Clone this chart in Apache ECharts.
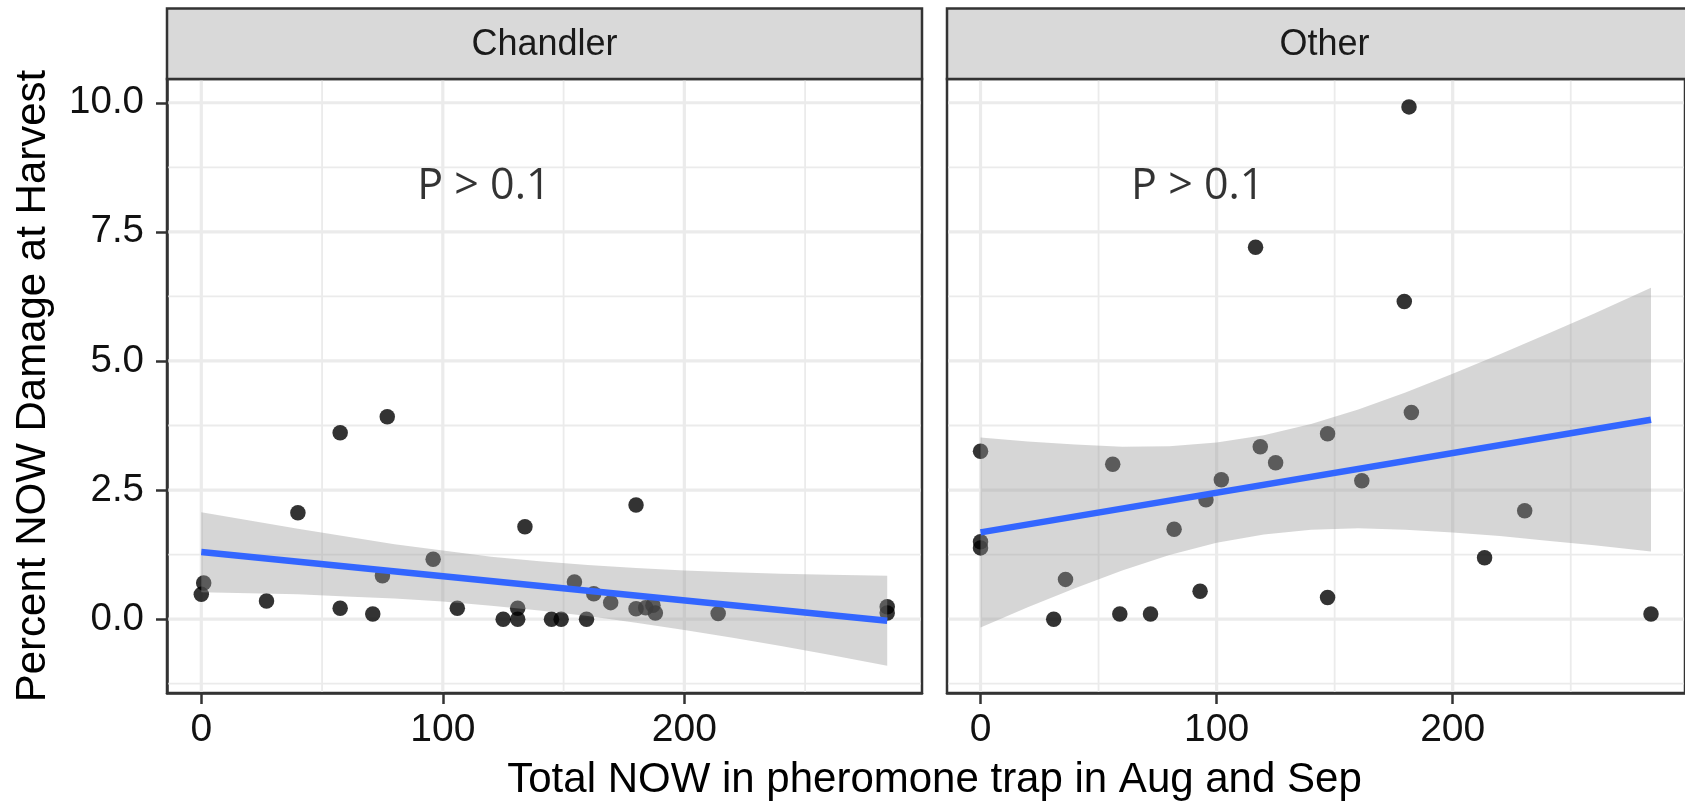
<!DOCTYPE html>
<html>
<head>
<meta charset="utf-8">
<title>NOW damage vs pheromone trap counts</title>
<script src="https://cdn.jsdelivr.net/npm/echarts@6/dist/echarts.min.js"></script>
<style>
  html, body { margin: 0; padding: 0; background: #ffffff; }
  #chart { width: 1685px; height: 805px; }
</style>
</head>
<body>
<div id="chart"></div>
<script>
// ---- data -------------------------------------------------------------
const panelNames = ['Chandler', 'Other'];

// Total NOW in trap (x) and percent damage (y), Chandler orchards
const chandlerX = [0, 1, 27, 40, 57.5, 57.5, 77, 71, 75, 96, 106, 125, 131, 131, 134, 145, 149, 154.5, 159.5, 162.5, 169.5, 180, 180, 184, 188, 187, 214, 284, 284];
const chandlerY = [0.48, 0.70, 0.35, 2.06, 3.61, 0.21, 3.92, 0.10, 0.84, 1.16, 0.21, 0, 0, 0.21, 1.79, 0, 0, 0.72, 0, 0.49, 0.32, 2.21, 0.20, 0.22, 0.12, 0.27, 0.11, 0.24, 0.12];

// Other varieties
const otherX = [0, 0, 0, 31, 36, 56, 59, 72, 82, 93, 95.5, 102, 116.5, 118.5, 125, 147, 147, 161.5, 179.5, 181.5, 182.5, 213.5, 230.5, 284];
const otherY = [3.25, 1.50, 1.38, 0, 0.77, 3.00, 0.10, 0.10, 1.74, 0.54, 2.31, 2.70, 7.20, 3.34, 3.03, 3.59, 0.42, 2.68, 6.15, 9.92, 4.00, 1.19, 2.10, 0.10];

// Linear fit end points
const fitX = [0, 284];
const chandlerFit = [1.30, -0.03];
const otherFit = [1.68, 3.86];

// Confidence band edges
const bandX = [0, 20, 40, 60, 80, 100, 120, 140, 160, 180, 200, 220, 240, 260, 284];
const chandlerUpper = [2.07, 1.91, 1.75, 1.60, 1.45, 1.33, 1.21, 1.12, 1.05, 0.99, 0.94, 0.91, 0.88, 0.86, 0.84];
const chandlerLower = [0.52, 0.50, 0.48, 0.44, 0.40, 0.34, 0.26, 0.17, 0.06, -0.07, -0.21, -0.36, -0.52, -0.69, -0.90];
const otherUpper = [3.52, 3.44, 3.38, 3.34, 3.35, 3.42, 3.56, 3.78, 4.06, 4.39, 4.75, 5.13, 5.52, 5.92, 6.42];
const otherLower = [-0.16, 0.23, 0.60, 0.94, 1.24, 1.48, 1.64, 1.73, 1.76, 1.73, 1.68, 1.61, 1.52, 1.43, 1.31];

// Axis breaks
const xTicks = [0, 100, 200];
const xMinor = [50, 150, 250];
const yTicks = [0, 2.5, 5, 7.5, 10];
const yMinor = [-1.25, 1.25, 3.75, 6.25, 8.75];
const xRange = [-14.2, 298.4];
const yRange = [-1.43, 10.46];

// Annotation
const pText = 'P > 0.1';
const pTextAt = [[117, 8.38], [92, 8.38]];

const xTitle = 'Total NOW in pheromone trap in Aug and Sep';
const yTitle = 'Percent NOW Damage at Harvest';

// ---- layout -----------------------------------------------------------
const FONT = '"Liberation Sans", Arial, Helvetica, sans-serif';
const PANEL_LEFT = [167, 947];
const PANEL_TOP = 79;
const PANEL_W = 755;
const PANEL_H = 614;
const STRIP_TOP = 8.5;
const BORDER = '#333333';
const GRID_COLOR = '#EBEBEB';

const panels = [
  { xs: chandlerX, ys: chandlerY, fit: chandlerFit, up: chandlerUpper, lo: chandlerLower },
  { xs: otherX, ys: otherY, fit: otherFit, up: otherUpper, lo: otherLower }
];

function gridLines(idx, values, horizontal, width) {
  return {
    type: 'custom',
    xAxisIndex: idx, yAxisIndex: idx,
    z: 1, silent: true, animation: false,
    data: values.map(v => horizontal ? [0, v] : [v, 0]),
    renderItem(params, api) {
      const cs = params.coordSys;
      const inset = 1.3;
      if (horizontal) {
        const y = api.coord([0, api.value(1)])[1];
        return { type: 'line', shape: { x1: cs.x + inset, y1: y, x2: cs.x + cs.width - inset, y2: y },
                 style: { stroke: GRID_COLOR, lineWidth: width } };
      }
      const x = api.coord([api.value(0), 0])[0];
      return { type: 'line', shape: { x1: x, y1: cs.y + inset, x2: x, y2: cs.y + cs.height - inset },
               style: { stroke: GRID_COLOR, lineWidth: width } };
    }
  };
}

function bandSeries(idx, up, lo) {
  return {
    type: 'custom',
    xAxisIndex: idx, yAxisIndex: idx,
    z: 3, silent: true, animation: false,
    data: bandX.map((x, i) => [x, up[i], lo[i]]),
    encode: { x: 0, y: [1, 2] },
    renderItem(params, api) {
      if (params.dataIndex !== 0) return null;
      const pts = [];
      for (let i = 0; i < bandX.length; i++) pts.push(api.coord([bandX[i], up[i]]));
      for (let i = bandX.length - 1; i >= 0; i--) pts.push(api.coord([bandX[i], lo[i]]));
      return { type: 'polygon', shape: { points: pts }, style: { fill: 'rgba(153,153,153,0.4)' } };
    }
  };
}

const grids = PANEL_LEFT.map(left => ({
  left: left, top: PANEL_TOP, width: PANEL_W, height: PANEL_H,
  show: true, backgroundColor: '#ffffff', borderColor: BORDER, borderWidth: 2.5
}));

const xAxes = PANEL_LEFT.map((_, i) => ({
  type: 'value', gridIndex: i, min: xRange[0], max: xRange[1],
  axisLine: { show: true, onZero: false, lineStyle: { color: BORDER, width: 2.5 } },
  axisTick: { show: true, customValues: xTicks, length: 11, lineStyle: { color: BORDER, width: 2.5 } },
  axisLabel: { show: true, customValues: xTicks, margin: 18, fontSize: 39, color: '#111111', fontFamily: FONT },
  splitLine: { show: false }, minorSplitLine: { show: false }
}));

const yAxes = PANEL_LEFT.map((_, i) => ({
  type: 'value', gridIndex: i, min: yRange[0], max: yRange[1],
  show: i === 0,
  axisLine: { show: true, onZero: false, lineStyle: { color: BORDER, width: 2.5 } },
  axisTick: { show: true, customValues: yTicks, length: 11, lineStyle: { color: BORDER, width: 2.5 } },
  axisLabel: { show: true, customValues: yTicks, margin: 23, fontSize: 38.5, color: '#111111', fontFamily: FONT,
               formatter: v => Number(v).toFixed(1) },
  splitLine: { show: false }, minorSplitLine: { show: false }
}));

const series = [];
panels.forEach((p, i) => {
  series.push(gridLines(i, yMinor, true, 1.8));
  series.push(gridLines(i, xMinor, false, 1.8));
  series.push(gridLines(i, yTicks, true, 3.2));
  series.push(gridLines(i, xTicks, false, 3.2));
  series.push({
    type: 'scatter', xAxisIndex: i, yAxisIndex: i, z: 2, silent: true, animation: false,
    symbolSize: 15.5, itemStyle: { color: '#000000' },
    data: p.xs.map((x, k) => [x, p.ys[k]])
  });
  series.push(bandSeries(i, p.up, p.lo));
  series.push({
    type: 'line', xAxisIndex: i, yAxisIndex: i, z: 4, silent: true, animation: false,
    showSymbol: false, symbol: 'none',
    lineStyle: { color: '#3366FF', width: 6.5 },
    data: fitX.map((x, k) => [x, p.fit[k]])
  });
  series.push({
    type: 'scatter', xAxisIndex: i, yAxisIndex: i, z: 5, silent: true, animation: false,
    symbolSize: 1, itemStyle: { color: 'rgba(0,0,0,0)' },
    label: { show: true, position: 'inside', formatter: pText, fontFamily: '"Open Sans", "Noto Sans", sans-serif',
             fontSize: 43, color: '#000000' },
    data: [pTextAt[i]]
  });
});

const graphics = [];
PANEL_LEFT.forEach((left, i) => {
  graphics.push({
    type: 'rect', z: 10, silent: true,
    shape: { x: left, y: STRIP_TOP, width: PANEL_W, height: PANEL_TOP - STRIP_TOP },
    style: { fill: '#D9D9D9', stroke: BORDER, lineWidth: 2.5 }
  });
  graphics.push({
    type: 'text', z: 11, silent: true, x: left + PANEL_W / 2, y: 45,
    style: { text: panelNames[i], font: '36px ' + FONT, fill: '#1A1A1A',
             align: 'center', verticalAlign: 'middle', textAlign: 'center', textVerticalAlign: 'middle' }
  });
});
graphics.push({
  type: 'text', z: 11, silent: true, x: (PANEL_LEFT[0] + PANEL_LEFT[1] + PANEL_W) / 2, y: 780,
  style: { text: xTitle, font: '42px ' + FONT, fill: '#000000',
           align: 'center', verticalAlign: 'middle', textAlign: 'center', textVerticalAlign: 'middle' }
});
graphics.push({
  type: 'text', z: 11, silent: true, x: 33, y: PANEL_TOP + PANEL_H / 2, rotation: Math.PI / 2,
  style: { text: yTitle, font: '42px ' + FONT, fill: '#000000',
           align: 'center', verticalAlign: 'middle', textAlign: 'center', textVerticalAlign: 'middle' }
});

const chart = echarts.init(document.getElementById('chart'), null, { renderer: 'canvas' });
chart.setOption({
  animation: false,
  backgroundColor: '#ffffff',
  grid: grids,
  xAxis: xAxes,
  yAxis: yAxes,
  series: series,
  graphic: graphics
});
</script>
</body>
</html>
